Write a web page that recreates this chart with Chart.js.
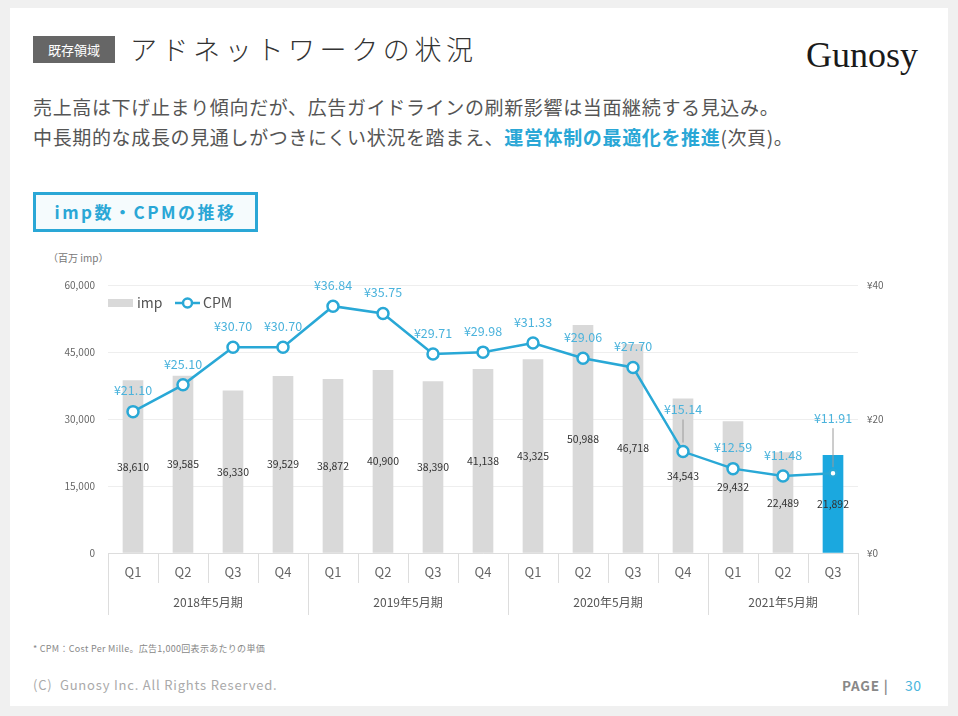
<!DOCTYPE html>
<html><head><meta charset="utf-8">
<script src="https://cdn.jsdelivr.net/npm/chart.js@4/dist/chart.umd.min.js"></script>
<style>
html,body{margin:0;padding:0;background:#f0f0f0;width:958px;height:716px;overflow:hidden;font-family:"Noto Sans CJK JP","Noto Sans",sans-serif;}
#card{position:absolute;left:10px;top:8px;width:938px;height:698px;background:#fff;}
.abs{position:absolute;white-space:nowrap;}
#tag{left:33px;top:36px;width:82px;height:27px;background:#666;color:#fff;font-size:13px;line-height:27px;text-align:center;}
#title{left:130px;top:29px;font-size:27px;letter-spacing:4.6px;color:#333;font-weight:300;line-height:40px;}
#logo{left:806px;top:33px;font-family:"Liberation Serif","DejaVu Serif",serif;font-size:36px;color:#1a1a1a;line-height:44px;}
#sub1{left:33px;top:93px;font-size:19px;color:#555;line-height:28px;letter-spacing:0.65px;}
#sub2{left:33px;top:123px;font-size:19px;color:#555;line-height:28px;letter-spacing:0.65px;}
.hl{color:#2aa7d6;font-weight:bold;}
#box{left:33px;top:192px;width:219px;height:34px;border:3px solid #2aa7d6;background:#f5fbfd;color:#2aa7d6;font-weight:bold;font-size:17px;text-align:center;line-height:34px;letter-spacing:2.5px;}
#unit{left:48px;top:250px;font-size:10px;color:#777;}
#note{left:33px;top:642px;font-size:9px;color:#888;letter-spacing:0.3px;}
#copy{left:33px;top:675px;font-size:13px;color:#aaa;letter-spacing:0.8px;}
#page{left:842px;top:675px;font-size:13.5px;color:#888;font-weight:bold;letter-spacing:0.8px;}
#pnum{left:905px;top:675px;font-size:14px;color:#4bb5dc;letter-spacing:0.5px;}
#wrap{position:absolute;left:0;top:240px;width:958px;height:400px;}
</style></head>
<body>
<div id="card"></div>
<div class="abs" id="tag">既存領域</div>
<div class="abs" id="title">アドネットワークの状況</div>
<div class="abs" id="logo">Gunosy</div>
<div class="abs" id="sub1">売上高は下げ止まり傾向だが、広告ガイドラインの刷新影響は当面継続する見込み。</div>
<div class="abs" id="sub2">中長期的な成長の見通しがつきにくい状況を踏まえ、<span class="hl">運営体制の最適化を推進</span>(次頁)。</div>
<div class="abs" id="box">imp数・CPMの推移</div>
<div class="abs" id="unit">（百万 imp）</div>
<div class="abs" id="note">* CPM：Cost Per Mille。広告1,000回表示あたりの単価</div>
<div class="abs" id="copy">(C)&nbsp; Gunosy Inc. All Rights Reserved.</div>
<div class="abs" id="page">PAGE |</div>
<div class="abs" id="pnum">30</div>
<div id="wrap"><canvas id="c" width="958" height="400"></canvas></div>
<script>
const categories = ['Q1','Q2','Q3','Q4','Q1','Q2','Q3','Q4','Q1','Q2','Q3','Q4','Q1','Q2','Q3'];
const fiscalYears = ['2018年5月期','2019年5月期','2020年5月期','2021年5月期'];
const quartersPerYear = [4,4,4,3];
const impValues = [38610,39585,36330,39529,38872,40900,38390,41138,43325,50988,46718,34543,29432,22489,21892];
const cpmValues = [21.10,25.10,30.70,30.70,36.84,35.75,29.71,29.98,31.33,29.06,27.70,15.14,12.59,11.48,11.91];
const leftTicks = [0,15000,30000,45000,60000];
const rightTicks = [0,20,40];

const BLUE = '#29a8d6';
const LABEL_BLUE = '#4bb3dc';
const GRAY_BAR = '#d9d9d9';
const HIGHLIGHT = '#1ba8df';
const FONT = '"Noto Sans CJK JP","Noto Sans",sans-serif';
const lastIdx = impValues.length - 1;

const valueLabels = {
  id: 'valueLabels',
  afterDatasetsDraw(chart) {
    const ctx = chart.ctx;
    ctx.save();
    const barMeta = chart.getDatasetMeta(1);
    ctx.font = '10.5px ' + FONT;
    ctx.fillStyle = '#333';
    ctx.textAlign = 'center';
    ctx.textBaseline = 'middle';
    barMeta.data.forEach((el, i) => {
      ctx.fillText(impValues[i].toLocaleString('en-US'), el.x, (el.y + el.base) / 2);
    });
    const lineMeta = chart.getDatasetMeta(0);
    const offsets = {11: 42, 14: 55};
    ctx.font = '12.5px ' + FONT;
    lineMeta.data.forEach((el, i) => {
      const off = offsets[i] || 21;
      ctx.fillStyle = LABEL_BLUE;
      ctx.fillText('¥' + cpmValues[i].toFixed(2), el.x, el.y - off);
      if (offsets[i]) {
        ctx.strokeStyle = '#9a9a9a';
        ctx.lineWidth = 1;
        ctx.beginPath();
        ctx.moveTo(el.x, el.y - off + 10);
        ctx.lineTo(el.x, el.y - (i === lastIdx ? 6 : 9));
        ctx.stroke();
      }
    });
    ctx.restore();
  }
};

const groupAxis = {
  id: 'groupAxis',
  afterDraw(chart) {
    const ctx = chart.ctx;
    const xs = chart.scales.x;
    const half = (xs.getPixelForValue(1) - xs.getPixelForValue(0)) / 2;
    const y0 = chart.chartArea.bottom;
    ctx.save();
    ctx.strokeStyle = '#dddddd';
    ctx.lineWidth = 1;
    ctx.font = '12px ' + FONT;
    ctx.fillStyle = '#555';
    ctx.textAlign = 'center';
    ctx.textBaseline = 'middle';
    let start = 0;
    fiscalYears.forEach((fy, g) => {
      const n = quartersPerYear[g];
      const l = xs.getPixelForValue(start) - half;
      const r = xs.getPixelForValue(start + n - 1) + half;
      [l, r].forEach(px => {
        ctx.beginPath();
        ctx.moveTo(Math.round(px) + 0.5, y0);
        ctx.lineTo(Math.round(px) + 0.5, y0 + 62);
        ctx.stroke();
      });
      ctx.fillText(fy, (l + r) / 2, y0 + 49);
      start += n;
    });
    ctx.restore();
  }
};

const customLegend = {
  id: 'customLegend',
  afterDraw(chart) {
    const ctx = chart.ctx;
    const x0 = chart.chartArea.left;
    const y = chart.chartArea.top + 18;
    ctx.save();
    ctx.fillStyle = GRAY_BAR;
    ctx.fillRect(x0, y - 4, 25, 8);
    ctx.font = '14px ' + FONT;
    ctx.fillStyle = '#555';
    ctx.textBaseline = 'middle';
    ctx.textAlign = 'left';
    ctx.fillText(chart.data.datasets[1].label, x0 + 29, y);
    const lx = x0 + 67;
    ctx.strokeStyle = BLUE;
    ctx.lineWidth = 2.5;
    ctx.beginPath(); ctx.moveTo(lx, y); ctx.lineTo(lx + 25, y); ctx.stroke();
    ctx.fillStyle = '#fff';
    ctx.beginPath(); ctx.arc(lx + 12.5, y, 4.5, 0, Math.PI * 2); ctx.fill(); ctx.stroke();
    ctx.fillStyle = '#555';
    ctx.fillText(chart.data.datasets[0].label, lx + 28, y);
    ctx.restore();
  }
};

new Chart(document.getElementById('c'), {
  data: {
    labels: categories,
    datasets: [
      {
        type: 'line', label: 'CPM', data: cpmValues, yAxisID: 'y2', order: 0,
        borderColor: BLUE, borderWidth: 2.5, tension: 0,
        pointRadius: cpmValues.map((v, i) => i === lastIdx ? 3.5 : 5.5),
        pointBackgroundColor: '#fff', pointBorderColor: BLUE, pointBorderWidth: 2.5
      },
      {
        type: 'bar', label: 'imp', data: impValues, yAxisID: 'y', order: 1,
        backgroundColor: impValues.map((v, i) => i === lastIdx ? HIGHLIGHT : GRAY_BAR),
        barThickness: 20
      }
    ]
  },
  options: {
    responsive: false,
    animation: false,
    layout: {padding: {top: 45}},
    plugins: {legend: {display: false}, tooltip: {enabled: false}},
    scales: {
      x: {
        grid: {offset: true, drawOnChartArea: false, tickLength: 30, color: '#dddddd'},
        border: {color: '#dddddd'},
        ticks: {padding: -19, color: '#666', font: {size: 13, family: FONT}},
        afterFit(s) { s.height = 87; }
      },
      y: {
        position: 'left', min: 0, max: 60000,
        afterBuildTicks(s) { s.ticks = leftTicks.map(v => ({value: v})); },
        ticks: {callback: v => v.toLocaleString('en-US'), color: '#666', font: {size: 10, family: FONT}, padding: 13},
        grid: {color: '#eeeeee', drawTicks: false},
        border: {display: false},
        afterFit(s) { s.width = 108; }
      },
      y2: {
        position: 'right', min: 0, max: 40,
        afterBuildTicks(s) { s.ticks = rightTicks.map(v => ({value: v})); },
        ticks: {callback: v => '¥' + v, color: '#666', font: {size: 10, family: FONT}, padding: 9},
        grid: {display: false, drawTicks: false},
        border: {display: false},
        afterFit(s) { s.width = 100; }
      }
    }
  },
  plugins: [valueLabels, groupAxis, customLegend]
});
</script>
</body></html>
